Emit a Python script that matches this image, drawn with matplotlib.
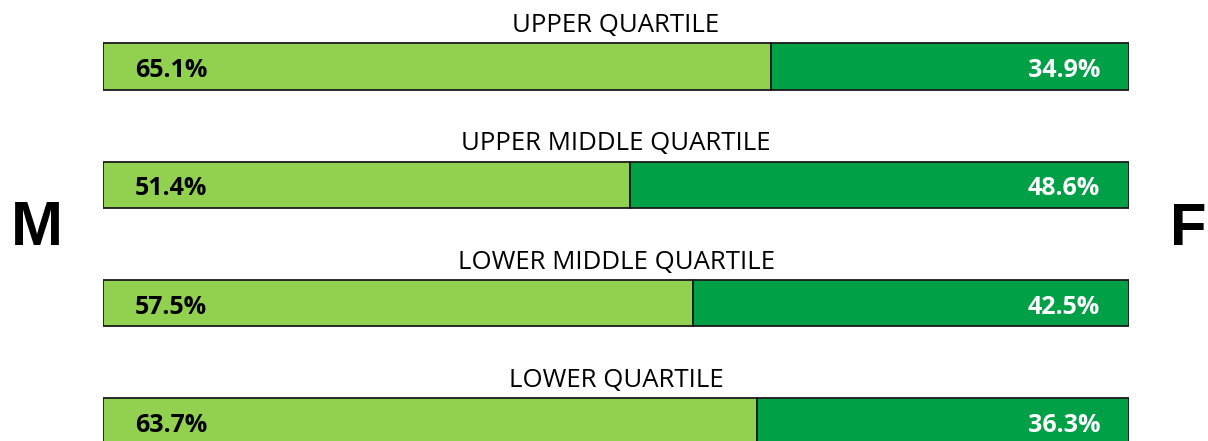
import matplotlib.pyplot as plt
import numpy as np

# Data
quartiles = ['UPPER QUARTILE', 'UPPER MIDDLE QUARTILE', 'LOWER MIDDLE QUARTILE', 'LOWER QUARTILE']
male = [65.1, 51.4, 57.5, 63.7]
female = [34.9, 48.6, 42.5, 36.3]

light_green = '#92D050'
dark_green = '#00A046'

fig = plt.figure(figsize=(12.08, 4.41), dpi=100)
ax = fig.add_axes([103 / 1208, 0, 1026 / 1208, 1])

y = np.arange(len(quartiles))
bar_h = 0.39

ax.barh(y, male, height=bar_h, color=light_green, edgecolor='#1a1a1a', linewidth=1.3)
ax.barh(y, female, left=male, height=bar_h, color=dark_green, edgecolor='#1a1a1a', linewidth=1.3)

for i, (name, m, f) in enumerate(zip(quartiles, male, female)):
    ax.text(50, i - 0.29, name, ha='center', va='baseline', fontsize=18.5,
            family='Open Sans', color='black')
    ax.text(3.1, i + 0.09, f'{m:.1f}%', ha='left', va='baseline', fontsize=18,
            family='Open Sans', fontweight='bold', color='black')
    ax.text(97.2, i + 0.09, f'{f:.1f}%', ha='right', va='baseline', fontsize=18,
            family='Open Sans', fontweight='bold', color='white')

ax.set_xlim(0, 100)
ax.set_ylim(3.166, -0.562)
ax.axis('off')

fig.text(37 / 1208, 1 - 245 / 441, 'M', ha='center', va='baseline', fontsize=45,
         family='Liberation Sans', fontweight='bold')
fig.text(1207 / 1208, 1 - 245 / 441, 'F', ha='right', va='baseline', fontsize=43,
         family='Liberation Sans', fontweight='bold')

plt.savefig('out.png', dpi=100)
plt.close()
